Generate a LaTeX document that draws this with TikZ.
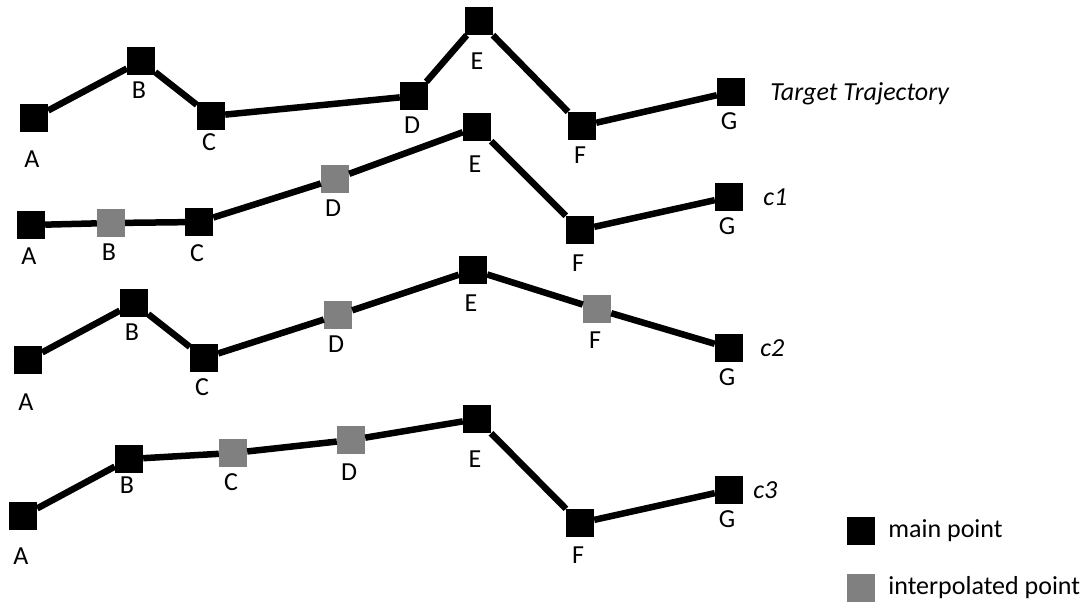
\documentclass[tikz,border=0pt]{standalone}
\usepackage{fontspec}
\setmainfont{Carlito}
\usepackage{tikz}
\usetikzlibrary{positioning}

\begin{document}
\begin{tikzpicture}[x=1pt, y=-1pt,
    font=\fontsize{26}{31}\selectfont,
    mainpt/.style={fill=black, minimum size=28pt, inner sep=0pt},
    interpt/.style={fill=gray, minimum size=28pt, inner sep=0pt},
    lbl/.style={inner sep=0pt, label distance=6pt, xshift=-2pt},
    traj/.style={line width=6.5pt},
    rowname/.style={inner sep=0pt, font=\fontsize{26}{31}\selectfont\itshape, text depth=0pt}]
  \useasboundingbox (0,0) rectangle (1089,606);

  % target trajectory
  \node[mainpt, label={[lbl, label distance=18pt]below:A}] (a0) at (34,118) {};
  \node[mainpt, label={[lbl]below:B}] (b0) at (141,61) {};
  \node[mainpt, label={[lbl, label distance=3pt]below:C}] (c0) at (211,116) {};
  \node[mainpt, label={[lbl]below:D}] (d0) at (414,96) {};
  \node[mainpt, label={[lbl, label distance=17pt]below:E}] (e0) at (479,21) {};
  \node[mainpt, label={[lbl]below:F}] (f0) at (582,126) {};
  \node[mainpt, label={[lbl]below:G}] (g0) at (731,92) {};
  \draw[traj] (a0) -- (b0) -- (c0) -- (d0) -- (e0) -- (f0) -- (g0);
  \node[rowname, right=25pt of g0] (n0) {Target Trajectory};

  % c1
  \node[mainpt, label={[lbl, label distance=8pt]below:A}] (a1) at (31,225) {};
  \node[interpt, label={[lbl]below:B}] (b1) at (111,223) {};
  \node[mainpt, label={[lbl, label distance=8pt]below:C}] (c1) at (199,222) {};
  \node[interpt, label={[lbl]below:D}] (d1) at (335,179) {};
  \node[mainpt, label={[lbl, label distance=14pt]below:E}] (e1) at (477,127) {};
  \node[mainpt, label={[lbl, label distance=10pt]below:F}] (f1) at (580,230) {};
  \node[mainpt, label={[lbl]below:G}] (g1) at (729,197) {};
  \draw[traj] (a1) -- (b1) -- (c1) -- (d1) -- (e1) -- (f1) -- (g1);
  \node[rowname, right=20pt of g1] (n1) {c1};

  % c2
  \node[mainpt, label={[lbl, label distance=19pt]below:A}] (a2) at (28,360) {};
  \node[mainpt, label={[lbl]below:B}] (b2) at (134,303) {};
  \node[mainpt, label={[lbl]below:C}] (c2) at (204,358) {};
  \node[interpt, label={[lbl]below:D}] (d2) at (338,315) {};
  \node[mainpt, label={[lbl, label distance=10pt]below:E}] (e2) at (473,270) {};
  \node[interpt, label={[lbl, label distance=8pt]below:F}] (f2) at (597,309) {};
  \node[mainpt, label={[lbl]below:G}] (g2) at (729,348) {};
  \draw[traj] (a2) -- (b2) -- (c2) -- (d2) -- (e2) -- (f2) -- (g2);
  \node[rowname, right=17pt of g2] (n2) {c2};

  % c3
  \node[mainpt, label={[lbl, label distance=17pt]below:A}] (a3) at (23,516) {};
  \node[mainpt, label={[lbl, label distance=3pt]below:B}] (b3) at (129,459) {};
  \node[interpt, label={[lbl]below:C}] (c3) at (233,453) {};
  \node[interpt, label={[lbl, label distance=9pt]below:D}] (d3) at (351,440) {};
  \node[mainpt, label={[lbl, label distance=17pt]below:E}] (e3) at (477,419) {};
  \node[mainpt, label={[lbl, label distance=9pt]below:F}] (f3) at (580,523) {};
  \node[mainpt, label={[lbl]below:G}] (g3) at (729,490) {};
  \draw[traj] (a3) -- (b3) -- (c3) -- (d3) -- (e3) -- (f3) -- (g3);
  \node[rowname, right=10pt of g3] (n3) {c3};

  % legend
  \node[mainpt] (kmain) at (861,531) {};
  \node[inner sep=0pt, right=13pt of kmain] (tmain) {main point};
  \node[interpt] (kinter) at (861,588) {};
  \node[inner sep=0pt, right=13pt of kinter] (tinter) {interpolated point};
\end{tikzpicture}
\end{document}
